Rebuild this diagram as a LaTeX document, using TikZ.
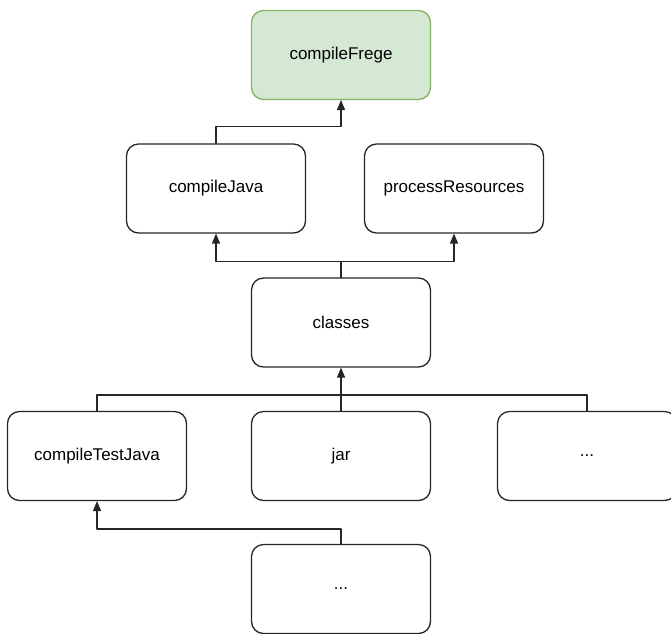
\documentclass[tikz,border=0pt]{standalone}
\usepackage{fontspec}
\setmainfont{Liberation Sans}
\usetikzlibrary{arrows}

\definecolor{frfill}{HTML}{D5E8D4}
\definecolor{frline}{HTML}{82B366}

\tikzset{
  task/.style={draw=black!85,rounded corners=12pt,line width=1.3pt,minimum width=179pt,minimum height=89pt,inner sep=0pt,font=\fontsize{17}{20}\selectfont},
  goal/.style={task,fill=frfill,draw=frline},
  dep/.style={line width=1.3pt,draw=black!85}
}

\begin{document}
\begin{tikzpicture}[line cap=round,line join=round,>=triangle 45,x=1pt,y=-1pt]
\useasboundingbox (0,0) rectangle (671,633);
\node[goal] (frege) at (341,55) {compileFrege};
\node[task] (java) at (216,188.5) {compileJava};
\node[task] (res) at (454,188.5) {processResources};
\node[task] (classes) at (341,322.5) {classes};
\node[task] (testjava) at (97,456) {compileTestJava};
\node[task] (jar) at (341,456) {jar};
\node[task] (more) at (587,456) {...};
\node[task] (moretest) at (341,589) {...};
\draw [->,dep] (java.north) -- ++(0,-17) -| (frege.south);
\draw [->,dep] (classes.north) -- ++(0,-16) -| (java.south);
\draw [->,dep] (classes.north) -- ++(0,-16) -| (res.south);
\draw [->,dep] (jar.north) -- (classes.south);
\draw [dep] (testjava.north) -- ++(0,-16) -| (more.north);
\draw [->,dep] (moretest.north) -- ++(0,-15) -| (testjava.south);
\end{tikzpicture}
\end{document}
